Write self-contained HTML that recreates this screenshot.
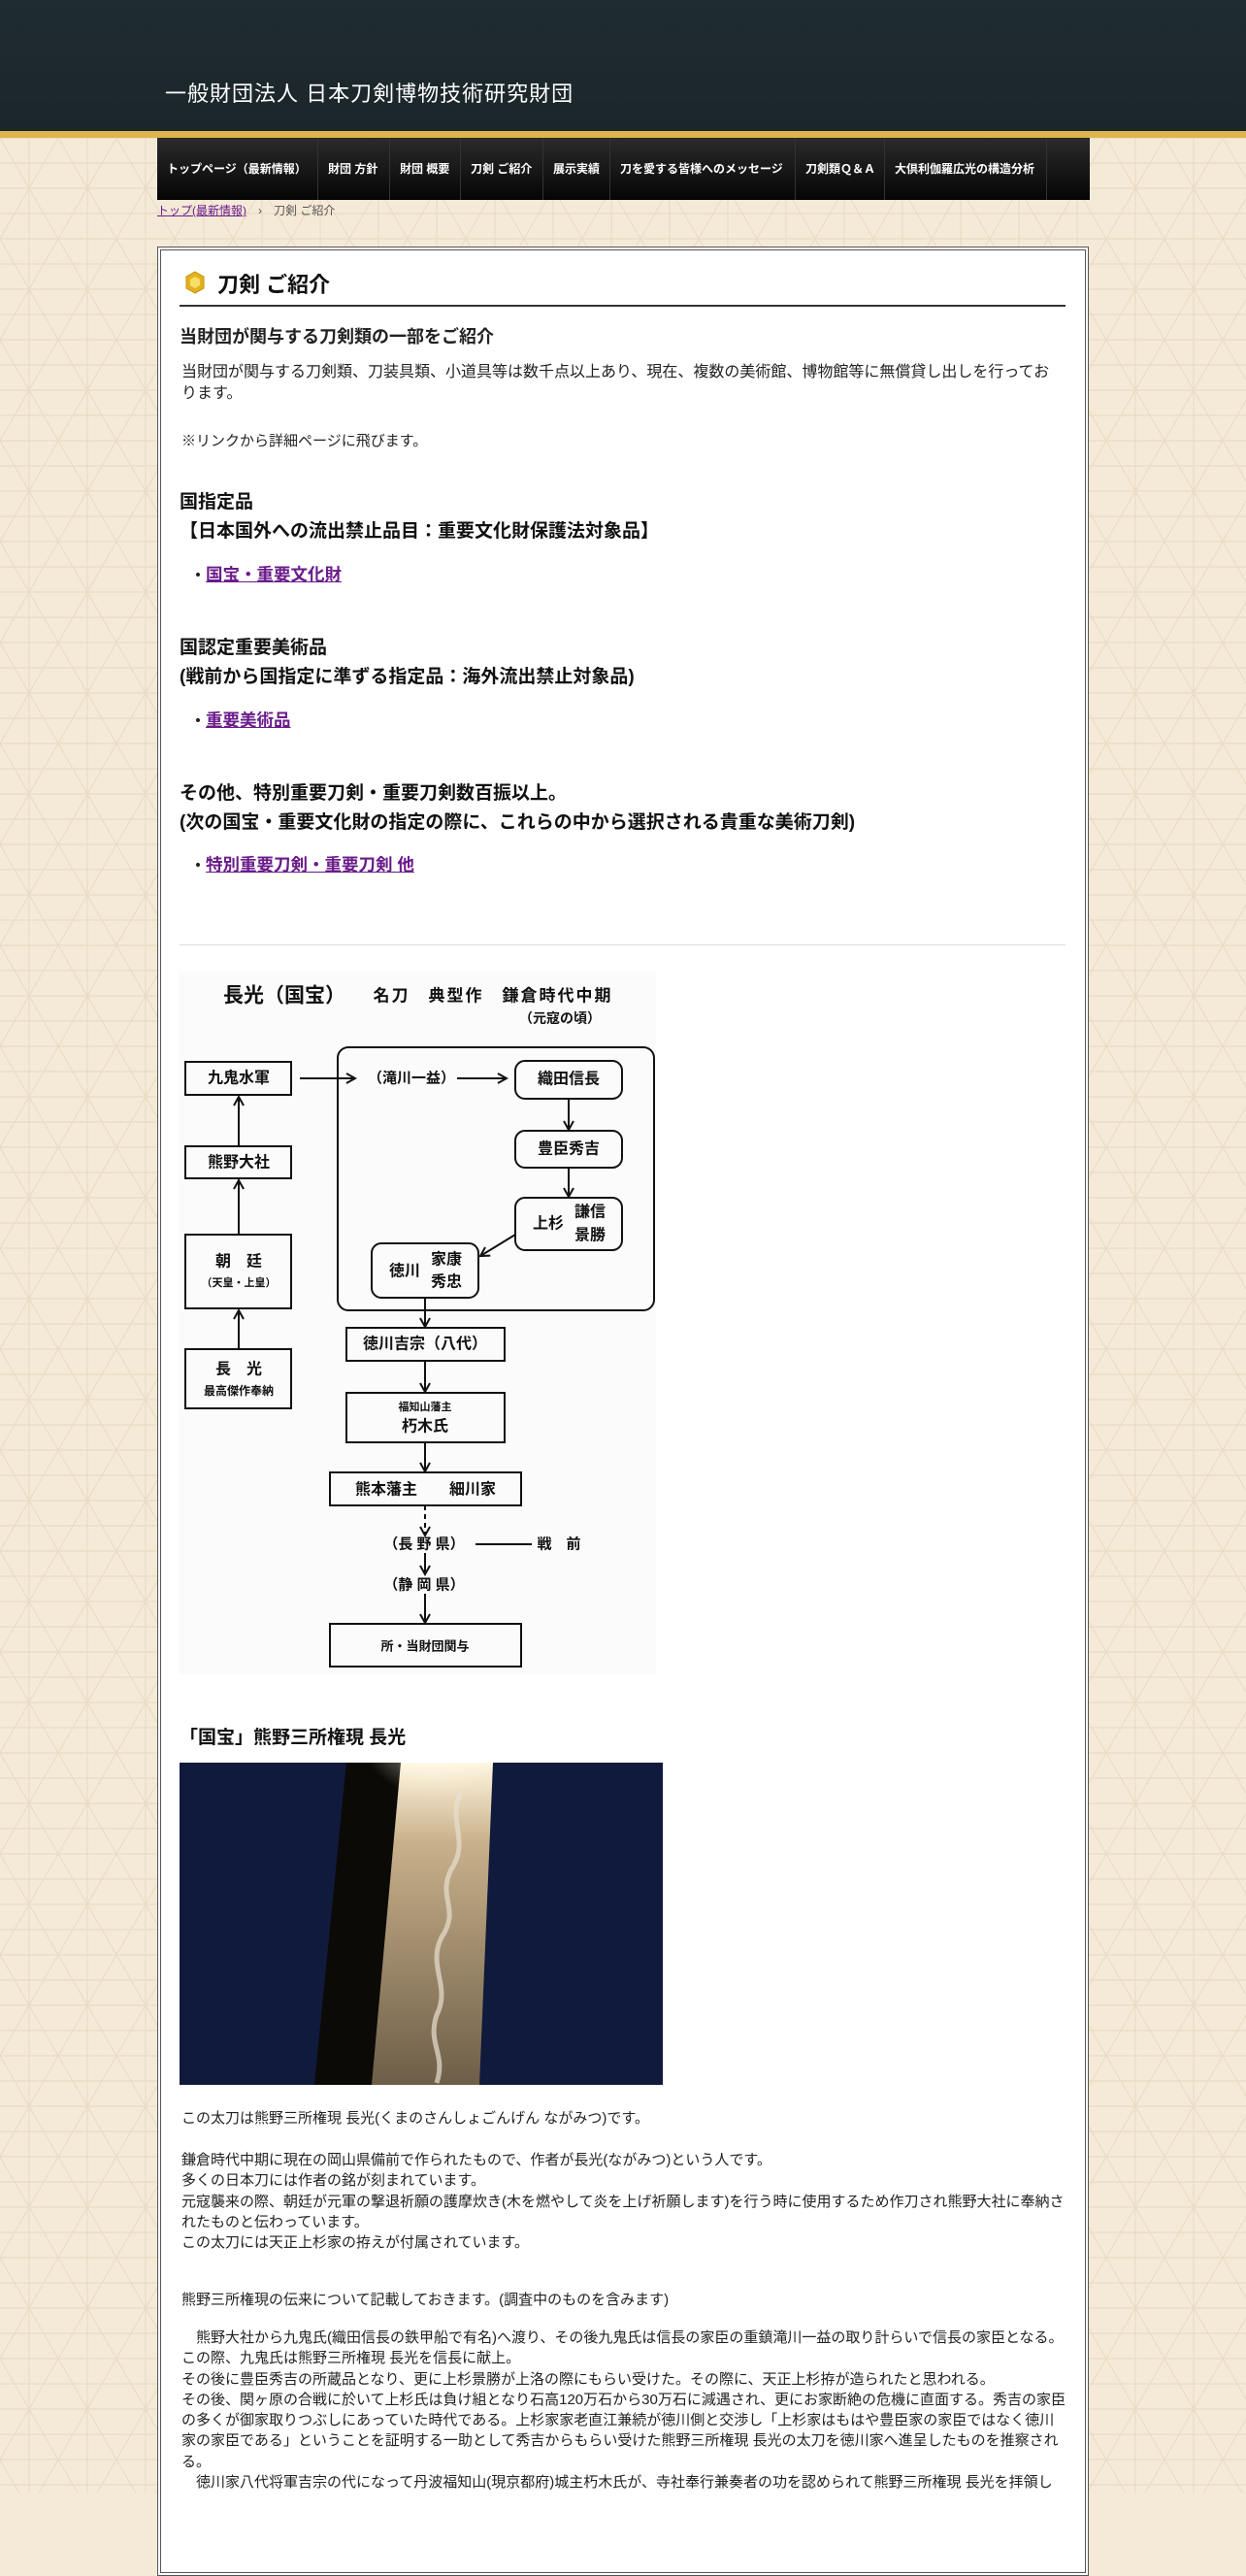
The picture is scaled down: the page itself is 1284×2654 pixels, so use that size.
<!DOCTYPE html>
<html><head><meta charset="utf-8">
<style>
*{margin:0;padding:0;box-sizing:border-box}
body{width:1284px;height:2568px;overflow:hidden;position:relative;background:#f5ead8;font-family:"Liberation Sans","Noto Sans CJK JP",sans-serif;color:#222}
.a{position:absolute;white-space:nowrap}
#hdr{position:absolute;left:0;top:0;width:1284px;height:135px;background:linear-gradient(#1f2c30,#1b262a)}
#gold{position:absolute;left:0;top:135px;width:1284px;height:7px;background:#ddb54c}
#nav{position:absolute;left:162px;top:142px;width:961px;height:64px;background:linear-gradient(#2b2b2b,#050505);}
.ni{position:absolute;top:0;height:64px;line-height:64px;color:#fff;font-size:12px;font-weight:bold;border-right:1px solid #333;padding-left:10px}
#box{position:absolute;left:162px;top:254px;width:960px;height:2400px;background:#fff;border:4px double #555}
.p{font-size:15px;color:#222}
.h{font-size:19px;font-weight:bold;color:#111}
.lk{font-size:17.5px;font-weight:bold;color:#6a1b8a;text-decoration:underline}
.dot{font-size:16px;font-weight:bold}
</style></head><body>
<svg class="a" style="left:0;top:142px" width="1284" height="2426">
<defs><pattern id="asa" width="120" height="104" patternUnits="userSpaceOnUse">
<g stroke="#eadcc3" stroke-width="1.2" fill="none">
<path d="M0,0 L120,0 M0,52 L120,52 M0,104 L120,104 M0,0 L60,104 M60,0 L120,104 M60,0 L0,104 M120,0 L60,104 M-60,0 L0,104"/>
<path d="M30,0 L30,104 M90,0 L90,104 M0,26 L120,26 M0,78 L120,78"/>
</g></pattern></defs>
<rect width="1284" height="2426" fill="url(#asa)"/>
</svg>
<div id="hdr"></div>
<div class="a" style="left:170px;top:79px;font-size:22px;color:#fff;letter-spacing:1px">一般財団法人 日本刀剣博物技術研究財団</div>
<div id="gold"></div>
<div id="nav">
<div class="ni" style="left:0;width:166px">トップページ（最新情報）</div>
<div class="ni" style="left:166px;width:74px">財団 方針</div>
<div class="ni" style="left:240px;width:73px">財団 概要</div>
<div class="ni" style="left:313px;width:85px">刀剣 ご紹介</div>
<div class="ni" style="left:398px;width:69px">展示実績</div>
<div class="ni" style="left:467px;width:191px">刀を愛する皆様へのメッセージ</div>
<div class="ni" style="left:658px;width:92px">刀剣類Ｑ＆Ａ</div>
<div class="ni" style="left:750px;width:167px">大倶利伽羅広光の構造分析</div>
</div>
<div class="a" style="left:162px;top:208px;font-size:12px;color:#555"><span style="color:#6a1b8a;text-decoration:underline">トップ(最新情報)</span>　›　刀剣 ご紹介</div>

<div id="box"></div>
<svg class="a" style="left:190px;top:279px" width="22" height="24" viewBox="0 0 22 24"><polygon points="11,1 20,6 20,18 11,23 2,18 2,6" fill="#e3b21f" stroke="#c4920c"/><polygon points="11,6 16,9 16,15 11,18 6,15 6,9" fill="#f7df6a"/></svg>
<div class="a" style="left:224px;top:276px;font-size:22px;font-weight:bold;color:#111">刀剣 ご紹介</div>
<div class="a" style="left:185px;top:314px;width:913px;height:2px;background:#333"></div>

<div class="a" style="left:185px;top:333px;font-size:18px;font-weight:bold">当財団が関与する刀剣類の一部をご紹介</div>
<div class="a p" style="left:187px;top:373px;line-height:22px;font-size:16px">当財団が関与する刀剣類、刀装具類、小道具等は数千点以上あり、現在、複数の美術館、博物館等に無償貸し出しを行ってお<br>ります。</div>
<div class="a p" style="left:187px;top:443px">※リンクから詳細ページに飛びます。</div>

<div class="a h" style="left:185px;top:503px;line-height:30px">国指定品<br>【日本国外への流出禁止品目：重要文化財保護法対象品】</div>
<div class="a" style="left:196px;top:579px"><span class="dot">・</span><span class="lk">国宝・重要文化財</span></div>
<div class="a h" style="left:185px;top:653px;line-height:30px">国認定重要美術品<br>(戦前から国指定に準ずる指定品：海外流出禁止対象品)</div>
<div class="a" style="left:196px;top:729px"><span class="dot">・</span><span class="lk">重要美術品</span></div>
<div class="a h" style="left:185px;top:803px;line-height:30px">その他、特別重要刀剣・重要刀剣数百振以上。<br>(次の国宝・重要文化財の指定の際に、これらの中から選択される貴重な美術刀剣)</div>
<div class="a" style="left:196px;top:878px"><span class="dot">・</span><span class="lk">特別重要刀剣・重要刀剣 他</span></div>

<div class="a" style="left:185px;top:973px;width:913px;height:1px;background:#ddd"></div>

<svg class="a" style="left:170px;top:990px" width="520" height="760" viewBox="0 0 520 760" font-family="'Liberation Sans','Noto Sans CJK JP',sans-serif" font-weight="bold">
<defs><marker id="ar" markerWidth="12" markerHeight="12" refX="10" refY="6" orient="auto" markerUnits="userSpaceOnUse"><path d="M1,1 L10,6 L1,11" fill="none" stroke="#111" stroke-width="2"/></marker></defs>
<rect x="14" y="10" width="492" height="725" fill="#fbfbfb"/>
<g fill="#111" text-anchor="middle" dominant-baseline="central">
<text x="123" y="36" font-size="21">長光（国宝）</text>
<text x="338" y="36" font-size="17" letter-spacing="2">名刀　典型作　鎌倉時代中期</text>
<text x="407" y="59" font-size="14">（元寇の頃）</text>
</g>
<g fill="none" stroke="#111" stroke-width="2">
<rect x="21" y="104" width="109" height="34"/>
<rect x="21" y="191" width="109" height="33"/>
<rect x="21" y="282" width="109" height="76"/>
<rect x="21" y="400" width="109" height="61"/>
<rect x="178" y="89" width="326" height="271" rx="11"/>
<rect x="361" y="103" width="110" height="39" rx="10"/>
<rect x="361" y="175" width="110" height="38" rx="10"/>
<rect x="361" y="244" width="110" height="54" rx="10"/>
<rect x="213" y="291" width="110" height="56" rx="10"/>
<rect x="187" y="378" width="163" height="34"/>
<rect x="187" y="445" width="163" height="51"/>
<rect x="170" y="527" width="197" height="34"/>
<rect x="170" y="683" width="197" height="44"/>
<line x1="76" y1="191" x2="76" y2="140" marker-end="url(#ar)"/>
<line x1="76" y1="282" x2="76" y2="226" marker-end="url(#ar)"/>
<line x1="76" y1="400" x2="76" y2="360" marker-end="url(#ar)"/>
<line x1="139" y1="121" x2="196" y2="121" marker-end="url(#ar)"/>
<line x1="301" y1="121" x2="352" y2="121" marker-end="url(#ar)"/>
<line x1="416" y1="142" x2="416" y2="174" marker-end="url(#ar)"/>
<line x1="416" y1="213" x2="416" y2="243" marker-end="url(#ar)"/>
<line x1="361" y1="282" x2="325" y2="304" marker-end="url(#ar)"/>
<line x1="268" y1="347" x2="268" y2="377" marker-end="url(#ar)"/>
<line x1="268" y1="412" x2="268" y2="444" marker-end="url(#ar)"/>
<line x1="268" y1="496" x2="268" y2="526" marker-end="url(#ar)"/>
<line x1="268" y1="561" x2="268" y2="592" stroke-dasharray="5,4" marker-end="url(#ar)"/>
<line x1="268" y1="610" x2="268" y2="632" marker-end="url(#ar)"/>
<line x1="268" y1="652" x2="268" y2="682" marker-end="url(#ar)"/>
<line x1="320" y1="601" x2="378" y2="601"/>
</g>
<g fill="#111" text-anchor="middle" dominant-baseline="central" font-size="16">
<text x="76" y="121">九鬼水軍</text>
<text x="76" y="208">熊野大社</text>
<text x="76" y="310">朝　廷</text>
<text x="76" y="332" font-size="11">（天皇・上皇）</text>
<text x="76" y="421">長　光</text>
<text x="76" y="443" font-size="12">最高傑作奉納</text>
<text x="254" y="121" font-size="15">（滝川一益）</text>
<text x="416" y="122">織田信長</text>
<text x="416" y="194">豊臣秀吉</text>
<text x="395" y="271">上杉</text>
<text x="438" y="259">謙信</text>
<text x="438" y="283">景勝</text>
<text x="247" y="320">徳川</text>
<text x="290" y="308">家康</text>
<text x="290" y="331">秀忠</text>
<text x="268" y="395">徳川吉宗（八代）</text>
<text x="268" y="460" font-size="11">福知山藩主</text>
<text x="268" y="480">朽木氏</text>
<text x="228" y="545">熊本藩主</text>
<text x="317" y="545">細川家</text>
<text x="267" y="601" font-size="15">（長 野 県）</text>
<text x="406" y="601" font-size="15">戦　前</text>
<text x="267" y="643" font-size="15">（静 岡 県）</text>
<text x="268" y="706" font-size="13">所・当財団関与</text>
</g>
</svg>

<div class="a" style="left:185px;top:1775px;font-size:19px;font-weight:bold;color:#111">「国宝」熊野三所権現 長光</div>
<svg class="a" style="left:185px;top:1816px" width="498" height="332" viewBox="0 0 498 332">
<defs>
<linearGradient id="bl" x1="0" y1="0" x2="0" y2="1"><stop offset="0" stop-color="#fff6e0"/><stop offset="0.25" stop-color="#c8b08a"/><stop offset="1" stop-color="#6d5e48"/></linearGradient>
<radialGradient id="gl" cx="0.5" cy="0" r="0.6"><stop offset="0" stop-color="#fffbe8"/><stop offset="1" stop-color="#fffbe8" stop-opacity="0"/></radialGradient>
</defs>
<rect width="498" height="332" fill="#0f1a3c"/>
<polygon points="172,0 230,0 200,332 139,332" fill="#0c0a06"/>
<polygon points="228,0 323,0 309,332 198,332" fill="url(#bl)"/>
<ellipse cx="260" cy="20" rx="70" ry="80" fill="url(#gl)"/>
<path d="M290,30 C275,60 300,80 280,110 C265,140 290,150 270,180 C255,210 280,230 265,260 C255,290 275,300 265,330" fill="none" stroke="#e8e0d0" stroke-width="5" opacity="0.7"/>
</svg>

<div class="a p" style="left:187px;top:2171px">この太刀は熊野三所権現 長光(くまのさんしょごんげん ながみつ)です。</div>
<div class="a p" style="left:187px;top:2215px;line-height:21.3px">鎌倉時代中期に現在の岡山県備前で作られたもので、作者が長光(ながみつ)という人です。<br>多くの日本刀には作者の銘が刻まれています。<br>元寇襲来の際、朝廷が元軍の撃退祈願の護摩炊き(木を燃やして炎を上げ祈願します)を行う時に使用するため作刀され熊野大社に奉納さ<br>れたものと伝わっています。<br>この太刀には天正上杉家の拵えが付属されています。</div>
<div class="a p" style="left:187px;top:2358px">熊野三所権現の伝来について記載しておきます。(調査中のものを含みます)</div>
<div class="a p" style="left:187px;top:2398px;line-height:21.3px">　熊野大社から九鬼氏(織田信長の鉄甲船で有名)へ渡り、その後九鬼氏は信長の家臣の重鎮滝川一益の取り計らいで信長の家臣となる。<br>この際、九鬼氏は熊野三所権現 長光を信長に献上。<br>その後に豊臣秀吉の所蔵品となり、更に上杉景勝が上洛の際にもらい受けた。その際に、天正上杉拵が造られたと思われる。<br>その後、関ヶ原の合戦に於いて上杉氏は負け組となり石高120万石から30万石に減遇され、更にお家断絶の危機に直面する。秀吉の家臣<br>の多くが御家取りつぶしにあっていた時代である。上杉家家老直江兼続が徳川側と交渉し「上杉家はもはや豊臣家の家臣ではなく徳川<br>家の家臣である」ということを証明する一助として秀吉からもらい受けた熊野三所権現 長光の太刀を徳川家へ進呈したものを推察され<br>る。<br>　徳川家八代将軍吉宗の代になって丹波福知山(現京都府)城主朽木氏が、寺社奉行兼奏者の功を認められて熊野三所権現 長光を拝領し</div>
</body></html>
